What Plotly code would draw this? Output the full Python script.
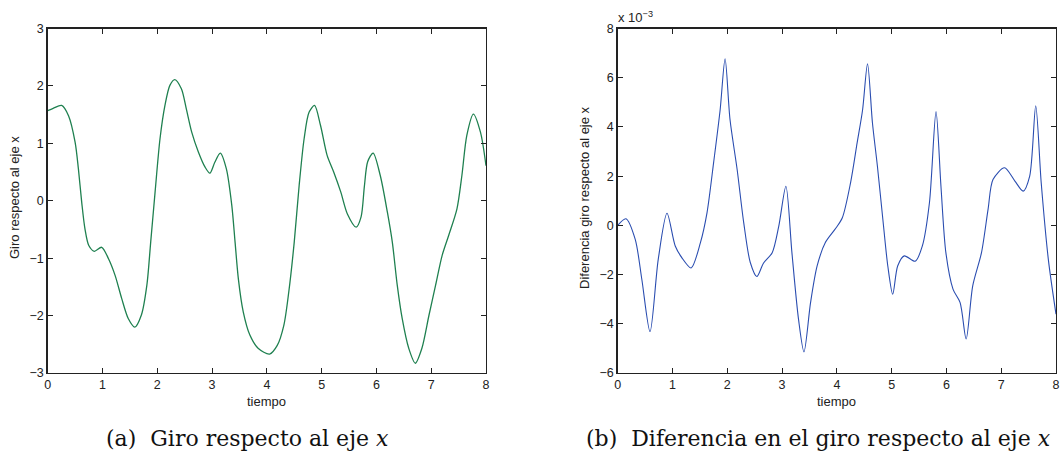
import plotly.graph_objects as go

# ---- data ----
t_giro = [0, 0.10, 0.255, 0.38, 0.50, 0.56, 0.62, 0.68, 0.75, 0.85, 0.985, 1.11, 1.23, 1.35, 1.47,
          1.59, 1.71, 1.81, 1.88, 1.96, 2.05, 2.14, 2.23, 2.32, 2.44, 2.53, 2.63, 2.75, 2.87, 2.96,
          3.05, 3.15, 3.26, 3.36, 3.42, 3.48, 3.57, 3.69, 3.84, 4.05, 4.19, 4.31, 4.40, 4.50, 4.59,
          4.68, 4.77, 4.87, 4.98, 5.10, 5.22, 5.35, 5.47, 5.63, 5.72, 5.78, 5.84, 5.94, 6.07, 6.20, 6.29,
          6.38, 6.47, 6.59, 6.71, 6.83, 6.96, 7.08, 7.20, 7.32, 7.47, 7.56, 7.65, 7.77, 7.90, 8.0]
giro = [1.57, 1.61, 1.66, 1.48, 1.02, 0.56, -0.02, -0.49, -0.78, -0.88, -0.81, -1.01, -1.30, -1.70, -2.05,
        -2.20, -1.99, -1.47, -0.72, 0.15, 1.08, 1.66, 2.01, 2.11, 1.95, 1.60, 1.19, 0.85, 0.59, 0.48,
        0.67, 0.83, 0.56, -0.08, -0.72, -1.36, -1.94, -2.34, -2.57, -2.67, -2.52, -2.17, -1.59, -0.72, 0.27,
        1.08, 1.54, 1.66, 1.31, 0.79, 0.50, 0.15, -0.23, -0.46, -0.28, 0.25, 0.68, 0.83, 0.44, -0.20, -0.72,
        -1.47, -2.05, -2.57, -2.83, -2.57, -1.99, -1.47, -0.95, -0.60, -0.14, 0.44, 1.14, 1.51, 1.19, 0.61]

t_dif = [0, 0.15, 0.32, 0.44, 0.59, 0.74, 0.90, 1.05, 1.17, 1.34, 1.51, 1.63, 1.75, 1.87, 1.96,
         2.05, 2.18, 2.30, 2.42, 2.54, 2.66, 2.82, 2.94, 3.07, 3.18, 3.30, 3.40, 3.52, 3.64, 3.79,
         3.98, 4.10, 4.25, 4.37, 4.47, 4.56, 4.65, 4.74, 4.84, 4.93, 5.02, 5.11, 5.23, 5.43, 5.56,
         5.69, 5.81, 5.90, 5.99, 6.12, 6.25, 6.36, 6.48, 6.64, 6.76, 6.85, 7.06, 7.25, 7.40, 7.52,
         7.63, 7.73, 7.86, 8.0]
dif_e3 = [0.0, 0.27, -0.57, -2.19, -4.32, -1.38, 0.49, -0.84, -1.31, -1.73, -0.70, 0.51, 2.54, 4.70, 6.77,
          4.30, 2.27, 0.11, -1.51, -2.08, -1.54, -1.11, -0.03, 1.59, -1.11, -3.81, -5.14, -3.14, -1.65, -0.70,
          -0.12, 0.31, 1.73, 3.35, 4.70, 6.57, 4.16, 2.41, 0.24, -1.65, -2.80, -1.65, -1.24, -1.46, -0.84,
          0.92, 4.62, 1.59, -1.11, -2.59, -3.14, -4.62, -2.46, -1.11, 0.65, 1.86, 2.34, 1.80, 1.39, 2.0,
          4.86, 1.73, -1.38, -3.61]

x_ticks = [0, 1, 2, 3, 4, 5, 6, 7, 8]
y1_ticks = [-3, -2, -1, 0, 1, 2, 3]
y2_ticks = [-6, -4, -2, 0, 2, 4, 6, 8]

W, H = 1060, 455
fig = go.Figure()
fig.add_trace(go.Scatter(x=t_giro, y=giro, mode="lines", line=dict(color="#1f8050", width=1.3, shape="spline", smoothing=0.8),
                         xaxis="x", yaxis="y", showlegend=False, hoverinfo="skip"))
fig.add_trace(go.Scatter(x=t_dif, y=dif_e3, mode="lines", line=dict(color="#2a4db0", width=1.1, shape="spline", smoothing=0.8),
                         xaxis="x2", yaxis="y2", showlegend=False, hoverinfo="skip"))

ydom = [1 - 373 / H, 1 - 28.5 / H]
axis_common = dict(showline=True, linecolor="#222", linewidth=1.4, mirror="ticks", ticks="inside", ticklen=5,
                   tickcolor="#222", tickwidth=1, showgrid=False, zeroline=False, automargin=False,
                   tickfont=dict(family="Liberation Sans, Arial, sans-serif", size=12.5, color="#222"))
fig.update_layout(
    width=W, height=H, margin=dict(l=0, r=0, t=0, b=0, pad=0), plot_bgcolor="white", paper_bgcolor="white",
    xaxis=dict(domain=[47.7 / W, 486 / W], range=[0, 8], tickvals=x_ticks, anchor="y", **axis_common),
    yaxis=dict(domain=ydom, range=[-3, 3], tickvals=y1_ticks, anchor="x", **axis_common),
    xaxis2=dict(domain=[617.7 / W, 1056 / W], range=[0, 8], tickvals=x_ticks, anchor="y2", **axis_common),
    yaxis2=dict(domain=ydom, range=[-6, 8], tickvals=y2_ticks, anchor="x2", **axis_common),
)

lab_font = dict(family="Liberation Sans, Arial, sans-serif", size=13, color="#222")
cap_font = dict(family="DejaVu Serif, serif", size=22, color="#111")
ann = [
    dict(x=(47.7 + 486) / 2 / W, y=1 - 401 / H, text="tiempo", font=lab_font),
    dict(x=(617.7 + 1056) / 2 / W, y=1 - 401 / H, text="tiempo", font=lab_font),
    dict(x=14 / W, y=1 - 198 / H, text="Giro respecto al eje x", textangle=-90, font=lab_font),
    dict(x=584 / W, y=1 - 198 / H, text="Diferencia giro respecto al eje x", textangle=-90, font=lab_font),
    dict(x=616 / W, y=1 - 17 / H, text="x 10<sup>−3</sup>", font=lab_font, xanchor="left"),
    dict(x=247.5 / W, y=1 - 438 / H, text="(a)  Giro respecto al eje <i>x</i>", font=cap_font),
    dict(x=818.5 / W, y=1 - 438 / H, text="(b)  Diferencia en el giro respecto al eje <i>x</i>", font=cap_font),
]
for a in ann:
    a.setdefault("xanchor", "center")
    fig.add_annotation(xref="paper", yref="paper", yanchor="middle", showarrow=False, **a)

fig.write_html("out.html", config={"displayModeBar": False, "staticPlot": True},
               post_script="document.body.style.margin='0';document.body.style.overflow='hidden';")
